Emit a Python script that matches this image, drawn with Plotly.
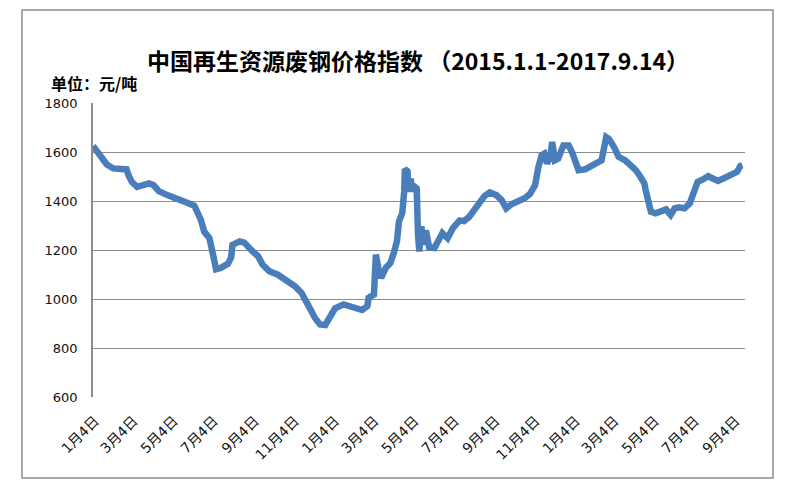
import plotly.graph_objects as go

# ---- data ----
dates = [
    "2015-01-01", "2015-01-06", "2015-01-14", "2015-01-22", "2015-02-01", "2015-02-11",
    "2015-02-21", "2015-02-24", "2015-03-01", "2015-03-09", "2015-03-16", "2015-03-27",
    "2015-04-03", "2015-04-11", "2015-04-24", "2015-05-07", "2015-05-17", "2015-05-27",
    "2015-06-04", "2015-06-09", "2015-06-14", "2015-06-19", "2015-06-27", "2015-07-02",
    "2015-07-07", "2015-07-14", "2015-07-25", "2015-07-30", "2015-08-01", "2015-08-12",
    "2015-08-19", "2015-08-29", "2015-09-09", "2015-09-16", "2015-09-26", "2015-10-09",
    "2015-10-22", "2015-11-04", "2015-11-14", "2015-11-22", "2015-11-29", "2015-12-04",
    "2015-12-12", "2015-12-20", "2015-12-27", "2016-01-04", "2016-01-17", "2016-01-30",
    "2016-02-14", "2016-02-22", "2016-02-24", "2016-03-03", "2016-03-06", "2016-03-10",
    "2016-03-14", "2016-03-21", "2016-03-28", "2016-04-02", "2016-04-07", "2016-04-10",
    "2016-04-15", "2016-04-18", "2016-04-19", "2016-04-23", "2016-04-25", "2016-04-28",
    "2016-04-30", "2016-05-04", "2016-05-07", "2016-05-09", "2016-05-11", "2016-05-14",
    "2016-05-18", "2016-05-21", "2016-05-26", "2016-06-03", "2016-06-08", "2016-06-15",
    "2016-06-23", "2016-07-01", "2016-07-11", "2016-07-18", "2016-07-26", "2016-08-03",
    "2016-08-10", "2016-08-18", "2016-08-26", "2016-09-05", "2016-09-13", "2016-09-20",
    "2016-09-28", "2016-10-08", "2016-10-18", "2016-10-26", "2016-11-03", "2016-11-08",
    "2016-11-13", "2016-11-17", "2016-11-21", "2016-11-26", "2016-11-29", "2016-12-03",
    "2016-12-08", "2016-12-16", "2016-12-24", "2016-12-29", "2017-01-03", "2017-01-08",
    "2017-01-18", "2017-01-31", "2017-02-12", "2017-02-19", "2017-02-23", "2017-03-03",
    "2017-03-10", "2017-03-20", "2017-03-28", "2017-04-05", "2017-04-12", "2017-04-18",
    "2017-04-20", "2017-04-23", "2017-04-28", "2017-05-05", "2017-05-13", "2017-05-21",
    "2017-05-28", "2017-06-03", "2017-06-10", "2017-06-18", "2017-06-26", "2017-07-01",
    "2017-07-08", "2017-07-16", "2017-07-24", "2017-07-31", "2017-08-08", "2017-08-16",
    "2017-08-25", "2017-09-01", "2017-09-06", "2017-09-11", "2017-09-14",
]
prices = [
    1625, 1607, 1573, 1549, 1533, 1529,
    1529, 1505, 1478, 1458, 1465, 1472,
    1465, 1440, 1424, 1413, 1404, 1390,
    1381, 1356, 1323, 1275, 1248, 1187,
    1122, 1127, 1143, 1170, 1221, 1235,
    1230, 1201, 1174, 1140, 1113, 1099,
    1079, 1052, 1025, 991, 950, 924,
    896, 894, 924, 962, 978, 964,
    955, 971, 1005, 1018, 1181, 1120,
    1086, 1127, 1147, 1187, 1235, 1316,
    1350, 1438, 1530, 1522, 1438, 1492,
    1440, 1458, 1451, 1262, 1194, 1296,
    1221, 1280, 1210, 1208, 1238, 1269,
    1248, 1289, 1320, 1318, 1336, 1363,
    1390, 1420, 1435, 1424, 1404, 1370,
    1387, 1397, 1411, 1428, 1465, 1539,
    1587, 1593, 1553, 1580, 1641, 1566,
    1573, 1627, 1627, 1600, 1553, 1526,
    1529, 1546, 1566, 1661, 1654, 1620,
    1580, 1566, 1546, 1526, 1499, 1472,
    1445, 1404, 1356, 1350, 1356, 1366,
    1343, 1370, 1374, 1370, 1390, 1424,
    1478, 1488, 1501, 1492, 1482, 1492,
    1506, 1512, 1519, 1543, 1546,
]
tick_dates = [
    "2015-01-04", "2015-03-04", "2015-05-04", "2015-07-04", "2015-09-04", "2015-11-04",
    "2016-01-04", "2016-03-04", "2016-05-04", "2016-07-04", "2016-09-04", "2016-11-04",
    "2017-01-04", "2017-03-04", "2017-05-04", "2017-07-04", "2017-09-04",
]
tick_labels = [
    "1月4日", "3月4日", "5月4日", "7月4日", "9月4日", "11月4日",
    "1月4日", "3月4日", "5月4日", "7月4日", "9月4日", "11月4日",
    "1月4日", "3月4日", "5月4日", "7月4日", "9月4日",
]
y_ticks = [600, 800, 1000, 1200, 1400, 1600, 1800]

title_text = "中国再生资源废钢价格指数 （2015.1.1-2017.9.14）"
unit_text = "单位：元/吨"

CJK = "Noto Sans CJK SC, Noto Sans, sans-serif"
MIX = "DejaVu Sans, Noto Sans CJK SC, sans-serif"

# Page places the figure with an 8px body margin; plot area wanted at
# page x 93..745, y 103..397.
OFF = 8
PL, PR, PT, PB = 93, 745, 103, 397
W, H = 800, 500


def px(x):
    return (x - PL) / (PR - PL)


def py(y):
    return (PB - y) / (PB - PT)


fig = go.Figure()
fig.add_trace(go.Scatter(
    x=dates, y=prices, mode="lines",
    line=dict(color="#4a7ebb", width=6.5),
    hoverinfo="x+y", showlegend=False,
))

fig.update_layout(
    width=W, height=H,
    margin=dict(l=PL - OFF, r=W - (PR - OFF), t=PT - OFF, b=H - (PB - OFF)),
    paper_bgcolor="white", plot_bgcolor="white",
    font=dict(family=CJK, color="#000000"),
    xaxis=dict(
        type="date",
        range=["2015-01-01", "2017-09-18"],
        tickmode="array", tickvals=tick_dates, ticktext=tick_labels,
        tickangle=-45, tickfont=dict(size=14, family=MIX, color="#111"),
        showgrid=False, zeroline=False, showline=False,
        ticks="", ticklabelstandoff=12,
    ),
    yaxis=dict(
        range=[600, 1800], tickmode="array", tickvals=y_ticks,
        tickfont=dict(size=13, family="DejaVu Sans, sans-serif", color="#111"),
        showgrid=True, gridcolor="#8c8c8c", gridwidth=1,
        showline=True, linecolor="#8c8c8c", linewidth=1.5,
        zeroline=False, ticks="", ticklabelstandoff=11,
    ),
    shapes=[
        dict(type="rect", xref="paper", yref="paper",
             x0=px(22), x1=px(773), y0=py(478), y1=py(10),
             line=dict(color="#8c8c8c", width=1.5), fillcolor="rgba(0,0,0,0)",
             layer="below"),
    ],
    annotations=[
        dict(text="<b>" + title_text + "</b>", xref="paper", yref="paper",
             x=px(418), y=py(60), xanchor="center", yanchor="middle",
             showarrow=False, font=dict(size=23, family=CJK, color="#000")),
        dict(text="<b>" + unit_text + "</b>", xref="paper", yref="paper",
             x=px(49), y=py(83), xanchor="left", yanchor="middle",
             showarrow=False, font=dict(size=16, family=CJK, color="#000")),
    ],
)

fig.write_html("out.html")
